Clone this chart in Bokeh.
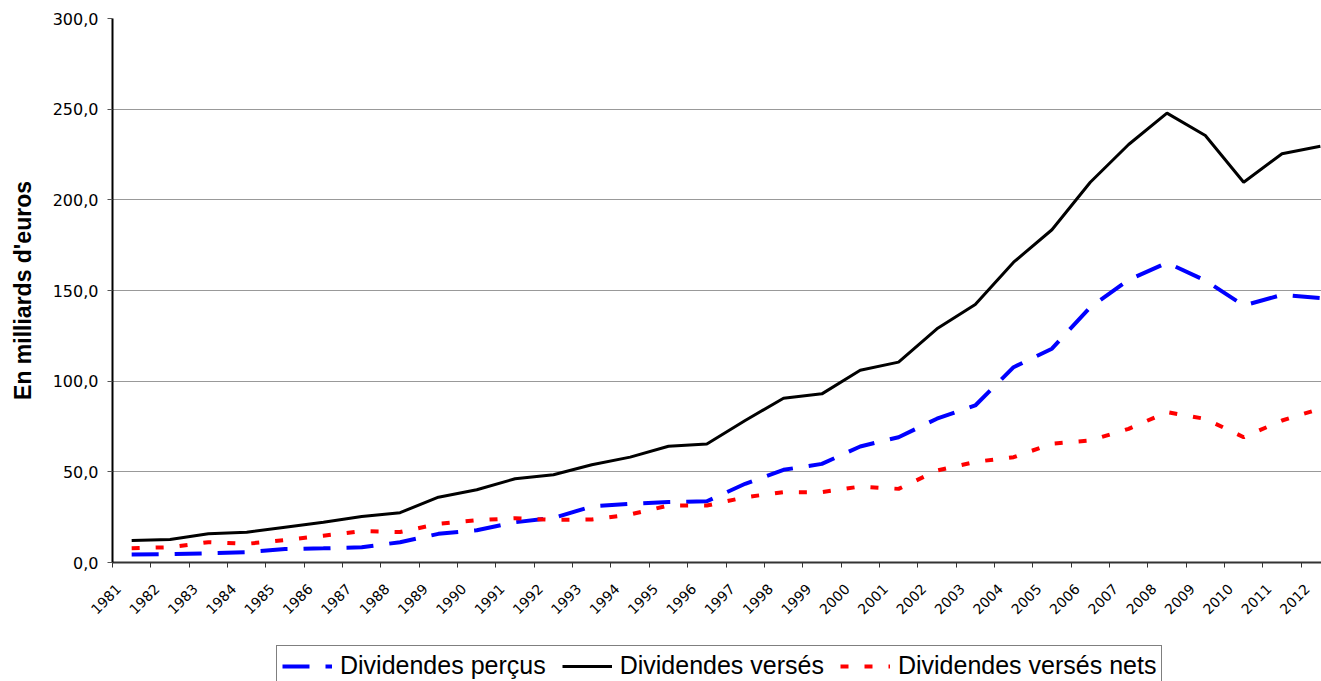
import math
from bokeh.plotting import figure
from bokeh.layouts import column
from bokeh.models import (Range1d, FixedTicker, LinearAxis, CustomJSTickFormatter,
                          Legend, LegendItem)
from bokeh.embed import file_html
from bokeh.resources import INLINE

# ---- data -------------------------------------------------------------
years = [str(y) for y in range(1981, 2013)]

dividendes_percus = [4.4, 4.6, 5.1, 5.7, 7.4, 7.8, 8.4, 11.2, 15.8, 17.8,
                     22.2, 24.6, 30.9, 32.4, 33.3, 33.8, 43.4, 51.1, 54.4, 64.0,
                     69.1, 79.3, 86.6, 107.7, 117.9, 140.8, 155.9, 165.3, 155.5, 141.7,
                     147.6, 145.8]

dividendes_verses = [12.1, 12.7, 15.8, 16.7, 19.5, 22.2, 25.4, 27.5, 36.0, 40.1,
                     46.2, 48.4, 53.9, 58.1, 64.1, 65.4, 78.3, 90.6, 93.0, 106.0,
                     110.5, 128.9, 142.3, 165.6, 183.5, 209.7, 230.5, 247.8, 235.5, 209.7,
                     225.4, 229.6]

dividendes_verses_nets = [7.9, 8.4, 11.2, 10.3, 12.4, 14.8, 17.3, 16.8, 21.3, 23.3,
                          24.4, 23.5, 23.7, 26.5, 31.4, 31.4, 36.0, 38.8, 38.8, 41.9,
                          40.6, 50.7, 55.5, 58.1, 65.5, 67.3, 73.7, 82.9, 79.2, 69.1,
                          78.3, 84.8]

y_ticks = [0, 50, 100, 150, 200, 250, 300]
y_title = "En milliards d'euros"
series_names = ["Dividendes perçus", "Dividendes versés", "Dividendes versés nets"]

# category centres (index + 0.5); tick marks sit on category edges
x_centres = [i + 0.5 for i in range(len(years))]
label_offset = 0.16

BLUE_DASH = "27 16"
RED_DASH = "8 16"

p = figure(width=1321, height=640, output_backend="svg", toolbar_location=None,
           x_range=Range1d(0, 31.53), y_range=Range1d(0, 300),
           x_axis_type=None,
           min_border_left=112, min_border_right=0, min_border_top=18,
           min_border_bottom=78)
p.outline_line_color = None

# ---- y axis -----------------------------------------------------------
yax = p.yaxis[0]
yax.ticker = FixedTicker(ticks=y_ticks)
yax.formatter = CustomJSTickFormatter(code="return tick.toFixed(1).replace('.', ',');")
yax.major_label_text_font = "DejaVu Sans"
yax.major_label_text_font_size = "16px"
yax.major_label_text_color = "black"
yax.major_label_standoff = 9
yax.major_tick_out = 5
yax.major_tick_in = 0
yax.major_tick_line_color = "#555555"
yax.minor_tick_line_color = None
yax.axis_line_color = "black"
yax.axis_line_width = 2
yax.axis_label = y_title
yax.axis_label_text_font = "Liberation Sans"
yax.axis_label_text_font_style = "bold"
yax.axis_label_text_font_size = "23px"
yax.axis_label_text_color = "black"
yax.axis_label_standoff = 14

p.ygrid.ticker = FixedTicker(ticks=y_ticks)
p.ygrid.grid_line_color = "#999999"
p.ygrid.grid_line_width = 1

# ---- x axis: tick marks at category edges --------------------------------
ax_ticks = LinearAxis(ticker=FixedTicker(ticks=list(range(len(years)))),
                      formatter=CustomJSTickFormatter(code="return '';"),
                      major_tick_out=5, major_tick_in=0,
                      major_tick_line_color="#333333",
                      minor_tick_line_color=None,
                      axis_line_color="#333333", axis_line_width=2,
                      major_label_standoff=0)
p.add_layout(ax_ticks, "below")

# ---- x axis: rotated year labels -------------------------------------------
ax_labels = LinearAxis(ticker=FixedTicker(ticks=[i + label_offset for i in range(len(years))]),
                       formatter=CustomJSTickFormatter(args=dict(labels=years, off=label_offset),
                                                       code="return labels[Math.round(tick - off)];"),
                       axis_line_color=None, major_tick_line_color=None,
                       minor_tick_line_color=None,
                       major_label_orientation=math.pi / 4,
                       major_label_standoff=13,
                       major_label_text_font="DejaVu Sans",
                       major_label_text_font_size="14px",
                       major_label_text_color="black")
p.add_layout(ax_labels, "below")

# ---- lines ------------------------------------------------------------
p.line(x_centres, dividendes_percus, line_color="#0000FF", line_width=4,
       line_dash=BLUE_DASH)
p.line(x_centres, dividendes_verses, line_color="black", line_width=3)
p.line(x_centres, dividendes_verses_nets, line_color="#FF0000", line_width=4,
       line_dash=RED_DASH)

# ---- legend strip under the chart ------------------------------------------
# same series drawn again in a strip whose y range shows none of them; they only
# feed the legend glyphs
lg = figure(width=1321, height=41, output_backend="svg", toolbar_location=None,
            x_axis_type=None, y_axis_type=None,
            x_range=Range1d(0, 1), y_range=Range1d(-2, -1), min_border=0)
lg.outline_line_color = None
k_percus = lg.line(x_centres, dividendes_percus, line_color="#0000FF", line_width=4,
                   line_dash=BLUE_DASH)
k_verses = lg.line(x_centres, dividendes_verses, line_color="black", line_width=3)
k_nets = lg.line(x_centres, dividendes_verses_nets, line_color="#FF0000", line_width=4,
                 line_dash=RED_DASH)

legend = Legend(items=[LegendItem(label=series_names[0], renderers=[k_percus]),
                       LegendItem(label=series_names[1], renderers=[k_verses]),
                       LegendItem(label=series_names[2], renderers=[k_nets])],
                orientation="horizontal", location=(164, -5),
                label_text_font="Liberation Sans", label_text_font_size="25px",
                label_text_color="black",
                glyph_width=50, glyph_height=20, label_standoff=8, spacing=16,
                padding=5, margin=0,
                border_line_color="black", border_line_width=1,
                background_fill_color="white", background_fill_alpha=1)
lg.add_layout(legend)

open("out.html", "w").write(file_html(column(p, lg, spacing=0), INLINE))
